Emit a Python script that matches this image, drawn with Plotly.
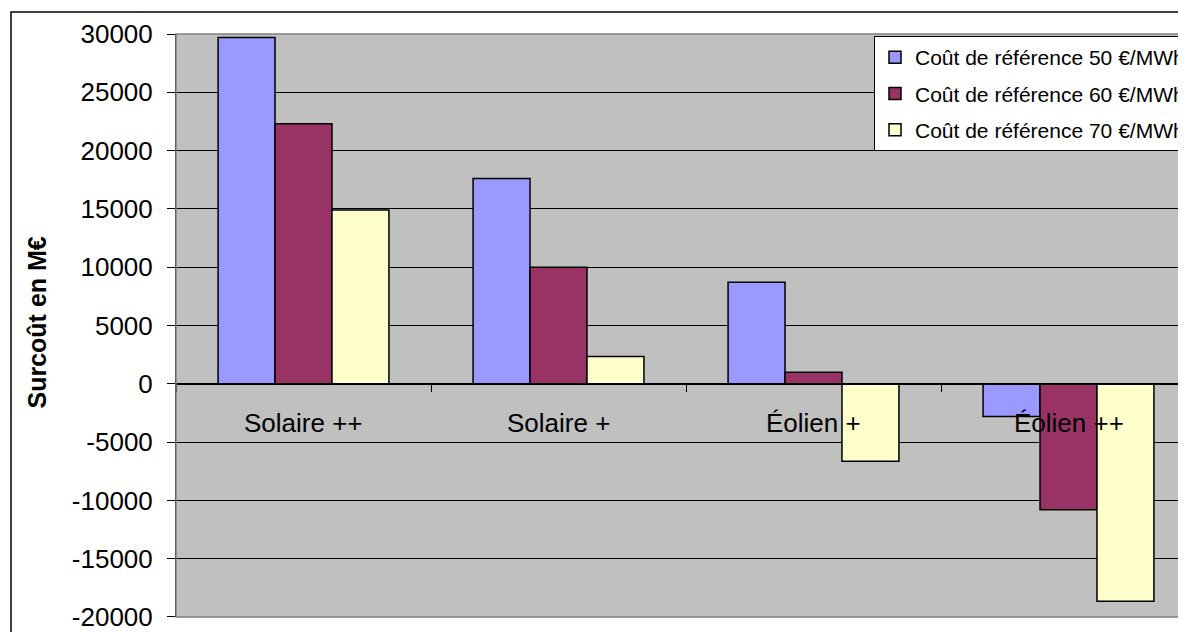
import plotly.graph_objects as go

categories = ["Solaire ++", "Solaire +", "Éolien +", "Éolien ++"]
cout_50 = [29700, 17600, 8700, -2800]
cout_60 = [22300, 10000, 1000, -10800]
cout_70 = [14900, 2350, -6650, -18650]
series_names = ["Coût de référence 50 €/MWh",
                "Coût de référence 60 €/MWh",
                "Coût de référence 70 €/MWh"]
series_colors = ["#9999FF", "#993366", "#FFFFCC"]
y_ticks = [30000, 25000, 20000, 15000, 10000, 5000, 0, -5000, -10000, -15000, -20000]
y_tick_labels = ["30000", "25000", "20000", "15000", "10000", "5000", "0",
                 "-5000", "-10000", "-15000", "-20000"]

FONT = "Arial, Liberation Sans, sans-serif"

# the page body has an 8px margin, so the figure is laid out 8px smaller
W, H = 1178, 624
L, T, B = 168, 26, 15
PW = W - L            # plot width in px
PH = H - T - B        # plot height in px

fig = go.Figure()
for i, (name, vals) in enumerate(zip(series_names, [cout_50, cout_60, cout_70])):
    fig.add_trace(go.Bar(
        x=categories, y=vals, name=name, legendgroup="g{}".format(i),
        marker=dict(color=series_colors[i], line=dict(color="black", width=1.5)),
    ))

# category labels sit just under the zero line, like in the spreadsheet
for cat in categories:
    fig.add_annotation(x=cat, y=0, xref="x", yref="y", text=cat, showarrow=False,
                       yshift=-39, font=dict(family=FONT, size=26, color="black"))

# y axis title
fig.add_annotation(x=-140 / PW, y=(609 - 314.5) / PH, xref="paper", yref="paper",
                   xanchor="center", yanchor="middle",
                   text="<b>Surcoût en M€</b>", textangle=-90, showarrow=False,
                   font=dict(family=FONT, size=25, color="black"))

# outer chart frame
fig.add_shape(type="rect", xref="paper", yref="paper",
              x0=-165 / PW, x1=1.2, y0=-0.2, y1=(609 - 4) / PH,
              line=dict(color="black", width=1.5), layer="below")
# plot area border (grey)
fig.add_shape(type="rect", xref="paper", yref="paper", x0=0, x1=1.2, y0=0, y1=1,
              line=dict(color="#808080", width=1.5), layer="above")

fig.update_layout(
    width=W, height=H,
    margin=dict(l=L, r=0, t=T, b=B, autoexpand=False),
    paper_bgcolor="white", plot_bgcolor="#C0C0C0",
    font=dict(family=FONT, size=26, color="black"),
    barmode="group", bargap=0.33, bargroupgap=0,
    showlegend=True,
    legend=dict(x=(866 - L) / PW, y=(609 - 28) / PH, xanchor="left", yanchor="top",
                bgcolor="white", bordercolor="black", borderwidth=1,
                font=dict(family=FONT, size=21, color="black"),
                tracegroupgap=6, traceorder="grouped"),
    xaxis=dict(range=[-0.5, PW / 255 - 0.5], anchor="free", position=0.4,
               showline=True, linecolor="black", linewidth=1, showgrid=False,
               ticks="outside", tickson="boundaries", ticklen=7, tickcolor="black",
               showticklabels=False, zeroline=False),
    yaxis=dict(range=[-20000.5, 30000], tickvals=y_ticks, ticktext=y_tick_labels,
               showline=True, linecolor="black", linewidth=1, ticks="outside",
               ticklen=8, tickcolor="black", ticklabeloverflow="allow",
               showgrid=True, gridcolor="black", gridwidth=1,
               zeroline=True, zerolinecolor="black", zerolinewidth=1,
               ticklabelstandoff=9, tickfont=dict(family=FONT, size=26)),
)

fig.write_html("out.html")
